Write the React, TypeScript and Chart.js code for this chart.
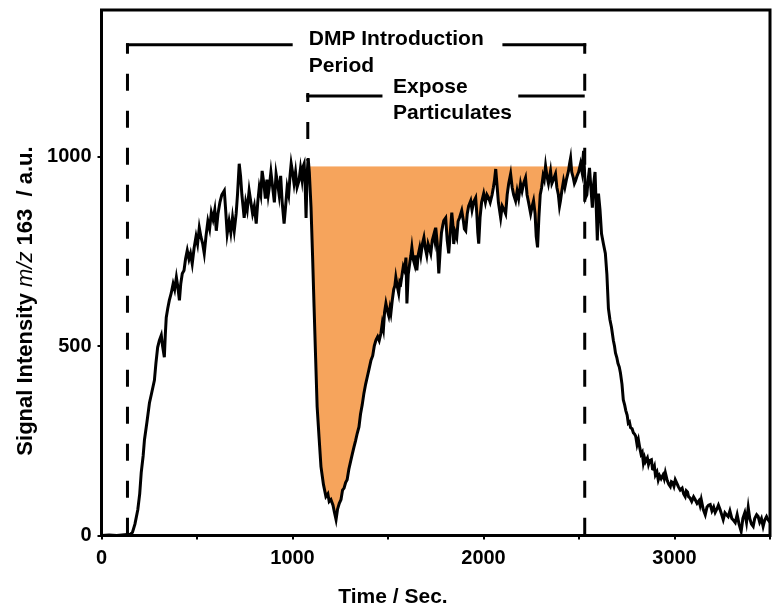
import React, { useEffect, useRef } from 'react';
import { Chart, registerables } from 'chart.js';

Chart.register(...registerables);

// ---- data ----
const timeSec = [
  0, 40, 80, 120, 150, 162, 175, 190, 200, 208,
  218, 225, 238, 251, 262, 277, 285, 294, 303, 313,
  320, 329, 334, 339, 347, 355, 365, 375, 383, 392,
  400, 408, 415, 423, 432, 440, 449, 458, 466, 475,
  485, 495, 503, 512, 520, 530, 538, 547, 557, 566,
  575, 584, 593, 601, 610, 620, 630, 643, 650, 658,
  668, 677, 686, 695, 705, 712, 721, 728, 735, 741,
  747, 755, 763, 773, 782, 791, 800, 810, 818, 826,
  834, 841, 850, 858, 866, 873, 878, 887, 896, 905,
  914, 922, 930, 938, 946, 956, 964, 972, 980, 987,
  993, 1000, 1008, 1016, 1024, 1034, 1042, 1050, 1056, 1061,
  1066, 1071, 1076, 1082, 1088, 1097, 1105, 1113, 1121, 1129,
  1139, 1149, 1162, 1175, 1185, 1192, 1201, 1212, 1220, 1228,
  1236, 1245, 1254, 1262, 1270, 1278, 1286, 1295, 1304, 1313,
  1322, 1330, 1339, 1348, 1356, 1365, 1374, 1383, 1392, 1401,
  1411, 1420, 1428, 1437, 1446, 1454, 1463, 1470, 1476, 1482,
  1489, 1496, 1504, 1510, 1515, 1522, 1530, 1536, 1541, 1548,
  1556, 1562, 1567, 1574, 1580, 1587, 1594, 1599, 1606, 1614,
  1620, 1625, 1632, 1640, 1645, 1651, 1658, 1666, 1672, 1680,
  1688, 1695, 1703, 1710, 1716, 1724, 1732, 1740, 1745, 1750,
  1758, 1766, 1774, 1780, 1787, 1792, 1802, 1810, 1818, 1826,
  1834, 1840, 1844, 1852, 1860, 1867, 1875, 1886, 1895, 1900,
  1907, 1915, 1922, 1933, 1940, 1948, 1959, 1965, 1970, 1975,
  1982, 1990, 2001, 2010, 2018, 2027, 2035, 2045, 2052, 2058,
  2064, 2070, 2078, 2084, 2090, 2098, 2108, 2116, 2124, 2132,
  2142, 2150, 2158, 2168, 2176, 2184, 2194, 2202, 2210, 2220,
  2228, 2236, 2247, 2255, 2262, 2270, 2276, 2283, 2290, 2297,
  2304, 2312, 2318, 2325, 2332, 2340, 2351, 2358, 2366, 2377,
  2384, 2392, 2398, 2403, 2410, 2419, 2426, 2434, 2445, 2450,
  2456, 2462, 2470, 2476, 2482, 2490, 2498, 2508, 2516, 2524,
  2530, 2534, 2541, 2548, 2555, 2562, 2570, 2577, 2584, 2590,
  2596, 2602, 2610, 2618, 2628, 2638, 2646, 2654, 2662, 2670,
  2680, 2686, 2691, 2698, 2704, 2711, 2717, 2725, 2732, 2739,
  2745, 2752, 2758, 2764, 2770, 2778, 2785, 2791, 2797, 2804,
  2811, 2818, 2825, 2831, 2837, 2843, 2848, 2858, 2864, 2870,
  2879, 2885, 2890, 2895, 2900, 2908, 2915, 2922, 2930, 2940,
  2946, 2952, 2962, 2970, 2978, 2984, 2990, 2997, 3004, 3015,
  3020, 3030, 3040, 3048, 3056, 3062, 3068, 3074, 3080, 3090,
  3100, 3108, 3118, 3128, 3134, 3140, 3150, 3161, 3170, 3178,
  3187, 3196, 3205, 3213, 3222, 3230, 3239, 3247, 3255, 3264,
  3272, 3281, 3290, 3300, 3309, 3318, 3328, 3338, 3349, 3358,
  3368, 3377, 3386, 3394, 3403, 3412, 3420, 3430, 3438, 3446,
  3455, 3464, 3472, 3482, 3490, 3500,
];

const signal = [
  0, 1, 0, 2, 3, 8, 30, 68, 110, 166,
  210, 253, 300, 350, 375, 410, 455, 497, 515, 529,
  500, 471, 530, 576, 600, 621, 640, 665, 650, 682,
  655, 621, 665, 692, 700, 730, 753, 730, 745, 718,
  760, 790, 770, 813, 790, 770, 745, 790, 830, 810,
  853, 835, 860, 805, 850, 880, 900, 911, 860, 797,
  830, 800, 840, 805, 850, 900, 982, 950, 900, 870,
  839, 880, 860, 911, 880, 850, 870, 824, 880, 920,
  900, 963, 930, 890, 940, 900, 918, 960, 920, 880,
  955, 930, 900, 950, 880, 824, 870, 920, 900, 950,
  982, 960, 930, 960, 920, 937, 970, 940, 975, 982,
  930, 839, 950, 997, 960, 866, 740, 603, 470, 340,
  260, 182, 135, 103, 110, 90, 95, 80, 60, 42,
  70, 85, 95, 120, 125, 140, 147, 175, 195, 215,
  234, 250, 270, 287, 320, 345, 376, 400, 420, 440,
  463, 475, 500, 516, 525, 515, 534, 560, 545, 590,
  613, 595, 580, 600, 587, 620, 650, 660, 682, 660,
  640, 670, 666, 690, 710, 700, 734, 613, 690, 720,
  740, 761, 730, 715, 740, 700, 740, 760, 740, 770,
  787, 760, 740, 770, 760, 745, 780, 795, 780, 813,
  770, 692, 760, 800, 820, 832, 839, 780, 745, 800,
  853, 820, 770, 800, 787, 830, 840, 858, 830, 810,
  805, 850, 870, 884, 860, 880, 892, 850, 800, 771,
  840, 880, 903, 880, 900, 892, 880, 900, 920, 940,
  968, 930, 880, 860, 839, 870, 860, 850, 900, 930,
  955, 920, 900, 884, 910, 890, 929, 910, 930, 945,
  900, 880, 850, 870, 884, 850, 790, 761, 840, 900,
  918, 950, 940, 976, 950, 930, 963, 930, 940, 955,
  920, 900, 870, 884, 910, 937, 920, 940, 963, 980,
  997, 960, 945, 930, 937, 950, 960, 982, 960, 1016,
  950, 892, 900, 940, 971, 920, 866, 930, 960, 870,
  779, 903, 860, 797, 770, 745, 690, 600, 570, 550,
  515, 500, 482, 470, 455, 445, 429, 400, 358, 345,
  330, 318, 297, 300, 285, 282, 271, 268, 262, 240,
  253, 232, 215, 220, 192, 205, 195, 205, 188, 198,
  200, 176, 175, 182, 160, 168, 147, 158, 150, 160,
  150, 166, 145, 135, 129, 142, 140, 130, 147, 135,
  129, 120, 125, 110, 103, 118, 115, 102, 100, 90,
  102, 95, 85, 92, 80, 95, 70, 55, 75, 80,
  82, 65, 75, 61, 70, 80, 68, 55, 42, 60,
  55, 50, 65, 45, 40, 34, 55, 30, 11, 45,
  60, 35, 74, 45, 30, 24, 45, 55, 50, 35,
  45, 24, 40, 50, 42, 35,
];

const xTicks = [0, 1000, 2000, 3000];
const xMinorTicks = [500, 1500, 2500, 3500];
const yTicks = [0, 500, 1000];

const X_MIN = 0;
const X_MAX = 3500;
const Y_MIN = 0;
const Y_MAX = 1388;

// shaded region: signal deficit below the plateau while particulates are exposed
const plateauLevel = 975;
const dmpStart = 136;
const exposeStart = 1080;
const periodEnd = 2530;

// ---- annotation layout (data units) ----
const outerBracketLevel = 1296;
const innerBracketLevel = 1161;
const outerGap = [1001, 2099];
const innerGap = [1471, 2182];
const outerTextX = 1085;
const innerTextX = 1526;

const FONT = '"Liberation Sans", Arial, Helvetica, sans-serif';
const ORANGE = '#F6A45C';

const annotationPlugin = {
  id: 'dmpAnnotations',
  beforeDatasetsDraw(chart: any) {
    const { ctx, scales, chartArea } = chart;
    const x = scales.x;
    const y = scales.y;
    const yOuter = y.getPixelForValue(outerBracketLevel);
    const yInner = y.getPixelForValue(innerBracketLevel);
    const px = (v: number) => x.getPixelForValue(v);
    ctx.save();
    ctx.strokeStyle = '#000';
    ctx.lineWidth = 3;
    ctx.lineCap = 'butt';

    const dashed = (xv: number, y0: number, y1: number, firstDash: number) => {
      ctx.setLineDash([17, 20]);
      ctx.lineDashOffset = 17 - firstDash;
      ctx.beginPath();
      ctx.moveTo(px(xv), y0);
      ctx.lineTo(px(xv), y1);
      ctx.stroke();
    };
    const solid = (x0: number, x1: number, yy: number) => {
      ctx.setLineDash([]);
      ctx.beginPath();
      ctx.moveTo(x0, yy);
      ctx.lineTo(x1, yy);
      ctx.stroke();
    };

    // outer bracket (DMP introduction period)
    solid(px(dmpStart) - 1.5, px(outerGap[0]), yOuter);
    solid(px(outerGap[1]), px(periodEnd) + 1.5, yOuter);
    dashed(dmpStart, yOuter - 1.5, chartArea.bottom, 10.5);
    dashed(periodEnd, yOuter - 1.5, chartArea.bottom, 10.5);

    // inner bracket (expose particulates)
    solid(px(exposeStart) - 1.5, px(innerGap[0]), yInner);
    solid(px(innerGap[1]), px(periodEnd), yInner);
    dashed(exposeStart, yInner - 3, y.getPixelForValue(plateauLevel + 15), 9);
    ctx.restore();
  },
  afterDatasetsDraw(chart: any) {
    const { ctx, chartArea } = chart;
    ctx.save();
    ctx.setLineDash([]);
    ctx.strokeStyle = '#000';
    ctx.lineWidth = 3;
    ctx.strokeRect(chartArea.left, chartArea.top, chartArea.right - chartArea.left, chartArea.bottom - chartArea.top);
    ctx.restore();
  },
  afterDraw(chart: any) {
    const { ctx, scales } = chart;
    const x = scales.x;
    const y = scales.y;
    const yOuter = y.getPixelForValue(outerBracketLevel);
    const yInner = y.getPixelForValue(innerBracketLevel);
    ctx.save();
    ctx.fillStyle = '#000';
    ctx.textBaseline = 'alphabetic';
    ctx.textAlign = 'left';
    ctx.font = `bold 21px ${FONT}`;
    ctx.fillText('DMP Introduction', x.getPixelForValue(outerTextX), yOuter);
    ctx.fillText('Period', x.getPixelForValue(outerTextX), yOuter + 27);
    ctx.fillText('Expose', x.getPixelForValue(innerTextX), yInner - 3);
    ctx.fillText('Particulates', x.getPixelForValue(innerTextX), yInner + 23);

    // x axis title
    ctx.textAlign = 'center';
    ctx.fillText('Time / Sec.', 393, 603);

    // y axis title with italic m/z
    const parts = [
      { t: 'Signal Intensity ', f: `bold 22px ${FONT}` },
      { t: 'm/z', f: `italic 22px ${FONT}` },
      { t: ' 163  / a.u.', f: `bold 22px ${FONT}` },
    ];
    ctx.translate(31.5, 301);
    ctx.rotate(-Math.PI / 2);
    ctx.textAlign = 'left';
    let total = 0;
    const widths = parts.map((p) => {
      ctx.font = p.f;
      const w = ctx.measureText(p.t).width;
      total += w;
      return w;
    });
    let cx = -total / 2;
    parts.forEach((p, i) => {
      ctx.font = p.f;
      ctx.fillText(p.t, cx, 0);
      cx += widths[i];
    });
    ctx.restore();
  },
};

export default function App() {
  const canvasRef = useRef<HTMLCanvasElement | null>(null);

  useEffect(() => {
    const canvas = canvasRef.current;
    if (!canvas) return;
    const points = timeSec.map((t, i) => ({ x: t, y: signal[i] }));
    const fillPoints = points.filter((p) => p.x >= exposeStart && p.x <= periodEnd);
    const allXTicks = [...xTicks, ...xMinorTicks].sort((a, b) => a - b);
    const tickFont = { family: FONT, size: 20, weight: 'bold' as const };

    const chart = new Chart(canvas, {
      type: 'line',
      data: {
        datasets: [
          {
            label: 'm/z 163',
            data: points,
            borderColor: '#000',
            borderWidth: 3,
            pointRadius: 0,
            tension: 0,
            fill: false,
            order: 0,
          },
          {
            label: 'deficit',
            data: fillPoints,
            borderColor: 'rgba(0,0,0,0)',
            borderWidth: 0,
            pointRadius: 0,
            tension: 0,
            fill: { target: { value: plateauLevel }, above: 'rgba(0,0,0,0)', below: ORANGE },
            order: 1,
          },
        ],
      },
      options: {
        animation: false,
        responsive: false,
        events: [],
        layout: { padding: { top: 10, right: 4, left: 0, bottom: 0 } },
        plugins: { legend: { display: false }, tooltip: { enabled: false } },
        scales: {
          x: {
            type: 'linear',
            min: X_MIN,
            max: X_MAX,
            afterBuildTicks: (s: any) => {
              s.ticks = allXTicks.map((v) => ({ value: v }));
            },
            afterFit: (s: any) => {
              s.height = 77.5;
              s.paddingLeft = 0;
              s.paddingRight = 0;
            },
            ticks: {
              autoSkip: false,
              maxRotation: 0,
              color: '#000',
              font: tickFont,
              padding: 7,
              callback: (v: any) => (xTicks.includes(Number(v)) ? String(v) : ''),
            },
            grid: { drawOnChartArea: false, drawTicks: true, tickLength: 4, color: '#000', lineWidth: 2 },
            border: { display: false },
          },
          y: {
            type: 'linear',
            min: Y_MIN,
            max: Y_MAX,
            afterBuildTicks: (s: any) => {
              s.ticks = yTicks.map((v) => ({ value: v }));
            },
            afterFit: (s: any) => {
              s.width = 101.5;
              s.paddingTop = 0;
              s.paddingBottom = 0;
            },
            ticks: {
              autoSkip: false,
              color: '#000',
              font: tickFont,
              padding: 6,
              callback: (v: any) => String(v),
            },
            grid: { drawOnChartArea: false, drawTicks: true, tickLength: 4, color: '#000', lineWidth: 2 },
            border: { display: false },
          },
        },
      },
      plugins: [annotationPlugin],
    });
    return () => chart.destroy();
  }, []);

  return (
    <canvas
      ref={canvasRef}
      width={774}
      height={613}
      style={{ position: 'absolute', left: 0, top: 0, width: 774, height: 613, display: 'block', background: '#fff' }}
    />
  );
}
